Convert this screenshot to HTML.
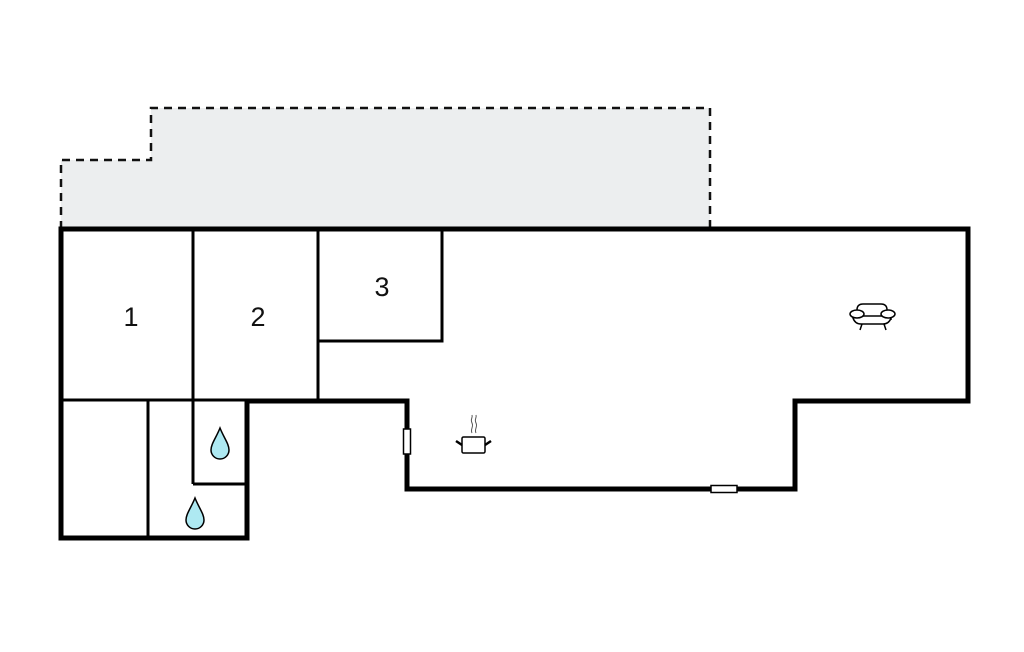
<!DOCTYPE html>
<html><head><meta charset="utf-8"><style>html,body{margin:0;padding:0;background:#fff}svg{display:block}</style></head>
<body>
<svg width="1024" height="652" viewBox="0 0 1024 652" xmlns="http://www.w3.org/2000/svg">
<polygon points="61,229 61,160 151,160 151,108 710,108 710,229" fill="#eceeef"/>
<polyline points="61,229 61,160 151,160 151,108 710,108 710,229" fill="none" stroke="#111" stroke-width="2.5" stroke-dasharray="8,6"/>
<g stroke="#000" stroke-width="3" fill="none">
<line x1="193" y1="229" x2="193" y2="484"/>
<line x1="318" y1="229" x2="318" y2="401"/>
<polyline points="318,341 442,341 442,229"/>
<line x1="61" y1="400" x2="247" y2="400"/>
<line x1="148" y1="400" x2="148" y2="538"/>
<line x1="193" y1="484" x2="247" y2="484"/>
</g>
<polygon points="61,229 968,229 968,401 795,401 795,489 407,489 407,401 247,401 247,538 61,538" fill="none" stroke="#000" stroke-width="5"/>
<rect x="403.5" y="429" width="7" height="25" fill="#fff" stroke="#000" stroke-width="1.5"/>
<rect x="711" y="485.5" width="26" height="7" fill="#fff" stroke="#000" stroke-width="1.5"/>
<g fill="#aee9f2" stroke="#000" stroke-width="1.5">
<path d="M220,428 C224,438 229,444 229,450 A9,9 0 0 1 211,450 C211,444 216,438 220,428 Z"/>
<path d="M195,498 C199,508 204,514 204,520 A9,9 0 0 1 186,520 C186,514 191,508 195,498 Z"/>
</g>
<g stroke="#000" stroke-width="1.5" fill="none">
<rect x="462" y="437" width="23" height="16" rx="1.5" fill="#fff"/>
<line x1="456" y1="441" x2="462" y2="445" stroke-width="2.5"/>
<line x1="491" y1="441" x2="485" y2="445" stroke-width="2.5"/>
<path d="M472,433 c-2,-4 2,-6 0,-10 c-2,-4 1,-5 0,-8" stroke="#555" stroke-width="1"/>
<path d="M476,433 c-2,-4 2,-6 0,-10 c-2,-4 1,-5 0,-8" stroke="#555" stroke-width="1"/>
</g>
<g stroke="#000" stroke-width="1.5" fill="#fff">
<path d="M857,310 q0,-6 6,-6 h18 q6,0 6,6 v8 h-30 z"/>
<path d="M857,316 h30 q4,0 4,4 v-2 q-2,6 -8,6 h-22 q-6,0 -8,-6 z"/>
<ellipse cx="857" cy="314" rx="7" ry="4"/>
<ellipse cx="888" cy="314" rx="7" ry="4"/>
<line x1="862" y1="324" x2="860" y2="330"/>
<line x1="884" y1="324" x2="886" y2="330"/>
</g>
<g font-family="Liberation Sans, sans-serif" font-size="27" text-anchor="middle" fill="#111">
<text x="131" y="326">1</text>
<text x="258" y="326">2</text>
<text x="382" y="296">3</text>
</g>
</svg>
</body></html>
